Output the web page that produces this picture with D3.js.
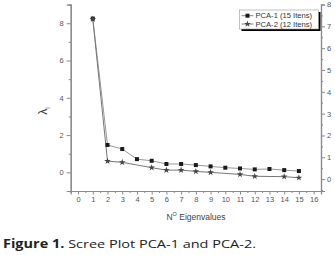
<!DOCTYPE html>
<html><head><meta charset="utf-8">
<script src="https://cdn.jsdelivr.net/npm/d3@7"></script>
<style>body{margin:0;background:#fff;}svg{display:block;}</style>
</head><body>
<script>
// ---- data ----
const pca1X = [1,2,3,4,5,6,7,8,9,10,11,12,13,14,15];
const pca1Y = [8.25,1.47,1.25,0.71,0.62,0.45,0.45,0.39,0.32,0.25,0.21,0.16,0.18,0.12,0.07];
const pca2X = [1,2,3,5,6,7,8,9,11,12,14,15];
const pca2Y = [8.22,0.60,0.54,0.25,0.12,0.12,0.05,0.00,-0.11,-0.21,-0.23,-0.29];
const xTicks = [0,1,2,3,4,5,6,7,8,9,10,11,12,13,14,15,16];
const yLeftTicks = [0,2,4,6,8];
const yRightTicks = [0,1,2,3,4,5,6,7,8];
const seriesNames = ["PCA-1 (15 Itens)","PCA-2 (12 Itens)"];
const xTitle = "N";
const caption = ["Figure 1.", " Scree Plot PCA-1 and PCA-2."];

const W=335,H=255;
const svg=d3.select("body").append("svg").attr("width",W).attr("height",H);
const x=d3.scaleLinear().domain([-0.5,16.5]).range([70.7,321]);
const yL=d3.scaleLinear().domain([-1,9]).range([191,4.6]);
const yR=d3.scaleLinear().domain([-0.545,8]).range([191,4.5]);
const axisColor="#8a8a8a", labelColor="#555";
const font="Liberation Sans, Arial, sans-serif";

function styleAxis(g){
  g.selectAll("path").attr("stroke",axisColor).attr("stroke-width",1.2);
  g.selectAll("line").attr("stroke",axisColor);
  g.selectAll("text").attr("fill",labelColor).attr("font-family",font).attr("font-size",7.5);
}
const xMinor=d3.range(-0.5,16.6,0.5).filter(v=>!Number.isInteger(v));
svg.append("g").attr("transform","translate(0,191)")
  .call(d3.axisBottom(x).tickValues(xMinor).tickSize(2).tickFormat("")).call(styleAxis);
svg.append("g").attr("transform","translate(0,191)")
  .call(d3.axisBottom(x).tickValues(xTicks).tickSize(3.5).tickPadding(2).tickFormat(d3.format("d"))).call(styleAxis);
svg.append("g").attr("transform","translate(70.7,0)")
  .call(d3.axisLeft(yL).tickValues([-1,1,3,5,7,9]).tickSize(2).tickFormat("")).call(styleAxis);
svg.append("g").attr("transform","translate(70.7,0)")
  .call(d3.axisLeft(yL).tickValues(yLeftTicks).tickSize(4).tickPadding(3).tickFormat(d3.format("d"))).call(styleAxis);
svg.append("g").attr("transform","translate(321,0)")
  .call(d3.axisRight(yR).tickValues(d3.range(-0.5,8.1,1)).tickSize(2).tickFormat("")).call(styleAxis);
svg.append("g").attr("transform","translate(321,0)")
  .call(d3.axisRight(yR).tickValues(yRightTicks).tickSize(4).tickPadding(2).tickFormat(d3.format("d"))).call(styleAxis);

// lines
const d1=pca1X.map((v,i)=>[v,pca1Y[i]]);
const d2=pca2X.map((v,i)=>[v,pca2Y[i]]);
const line=d3.line().x(d=>x(d[0])).y(d=>yL(d[1]));
svg.append("path").attr("d",line(d1)).attr("fill","none").attr("stroke","#999").attr("stroke-width",1);
svg.append("path").attr("d",line(d2)).attr("fill","none").attr("stroke","#777").attr("stroke-width",1);
const sq=d3.symbol(d3.symbolSquare,16);
const st=d3.symbol(d3.symbolStar,14);
svg.selectAll(".m1").data(d1).join("path").attr("d",sq)
  .attr("transform",d=>`translate(${x(d[0])},${yL(d[1])})`).attr("fill","#1a1a1a");
svg.selectAll(".m2").data(d2).join("path").attr("d",st)
  .attr("transform",d=>`translate(${x(d[0])},${yL(d[1])})`).attr("fill","#444");

// axis titles
const xt=svg.append("text").attr("x",196).attr("y",220).attr("text-anchor","middle")
  .attr("font-family",font).attr("font-size",8.5).attr("fill","#444");
xt.append("tspan").text(xTitle);
xt.append("tspan").attr("font-size",5.5).attr("dy",-4).text("O");
xt.append("tspan").attr("dy",4).text(" Eigenvalues");
const yt=svg.append("text").attr("transform","translate(47,111) rotate(-90)").attr("text-anchor","middle")
  .attr("font-family",font).attr("font-size",12).attr("fill","#444");
yt.append("tspan").text("λ");
yt.append("tspan").attr("font-size",7).attr("dy",3).text("i");

// legend
const lg=svg.append("g").attr("transform","translate(239.5,10)");
lg.append("rect").attr("x",2).attr("y",2).attr("width",79).attr("height",19).attr("fill","#000");
lg.append("rect").attr("x",0).attr("y",0).attr("width",79).attr("height",19).attr("fill","#fff").attr("stroke","#999").attr("stroke-width",0.6);
seriesNames.forEach((n,i)=>{
  const yy=5.7+i*8.3;
  lg.append("line").attr("x1",2).attr("x2",14).attr("y1",yy).attr("y2",yy).attr("stroke","#888");
  lg.append("path").attr("d",i===0?sq:st).attr("transform",`translate(8,${yy})`).attr("fill",i===0?"#1a1a1a":"#444");
  lg.append("text").attr("x",16).attr("y",yy+2.6).attr("font-family",font).attr("font-size",7.6).attr("fill","#333").text(n);
});

// caption
const cap=svg.append("text").attr("x",3).attr("y",248).attr("font-family","Open Sans, sans-serif").attr("font-size",11.5)
  .attr("fill","#222").attr("textLength",253).attr("lengthAdjust","spacingAndGlyphs");
cap.append("tspan").attr("font-weight","bold").text(caption[0]);
cap.append("tspan").text(caption[1]);
</script>
</body></html>
